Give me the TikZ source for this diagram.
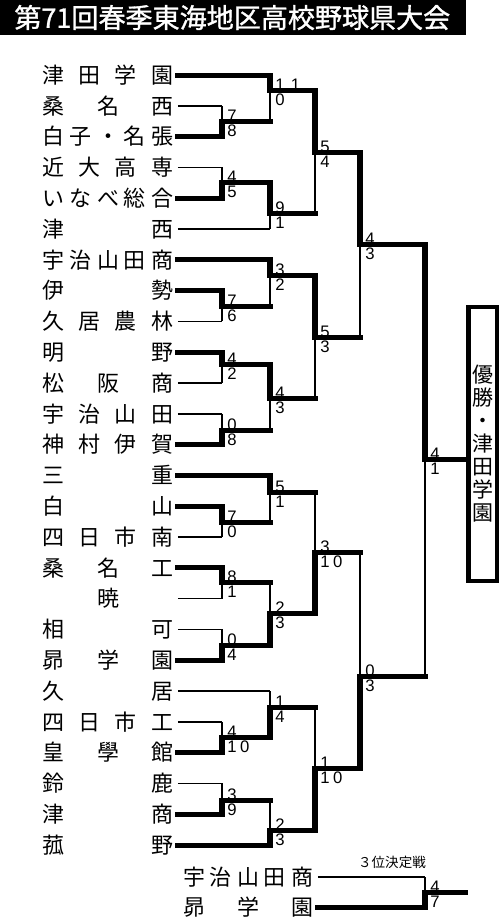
\documentclass[tikz,border=0pt]{standalone}
\usepackage{fontspec}
\setmainfont{Noto Sans CJK JP}
\newfontfamily\numfont{Liberation Sans}
\newfontfamily\titlefont{Noto Sans CJK JP}[FakeBold=1.2]
\tikzset{
  win/.style={line width=2.85pt, line cap=rect, line join=miter},
  lose/.style={line width=0.8pt},
  team/.style={anchor=west, inner sep=0pt, outer xsep=0.1cm, text height=11pt, text depth=1.5pt,
    font=\fontsize{12.5pt}{13pt}\selectfont},
  sc/.style={inner sep=0pt, font=\numfont\fontsize{9.5pt}{10pt}\selectfont},
}
\newcommand{\nm}[1]{\hbox to 2.6cm{#1}}
% #1 upper input point, #2 lower input point, #3 junction, #4 next column, #5 winner u/l, #6 #7 scores
\newcommand{\mtch}[7]{%
  \ifx u#5
    \draw[lose] (#3) -- (#2);
    \draw[win] (#1) -- (#3) -- (#3 -| #4);
  \else
    \draw[lose] (#1) -- (#3);
    \draw[win] (#2) -- (#3) -- (#3 -| #4);
  \fi
  \node[sc, anchor=base west] (#3t) at ([shift={(5,0)}]#3) {#6};
  \node[sc, anchor=base west] (#3b) at ([shift={(5,15)}]#3) {#7};
}
\begin{document}
\begin{tikzpicture}[x=0.02cm, y=-0.02cm]
\useasboundingbox (0,0) rectangle (500,921);
% title
\fill[black] (0,0) rectangle (466,35);
\node[anchor=west, text=white, inner sep=0pt, font=\titlefont\fontsize{15.4pt}{16pt}\selectfont] (title) at (14,17.5) {第71回春季東海地区高校野球県大会};
% columns
\coordinate (c1) at (222,0);
\coordinate (c2) at (270,0);
\coordinate (c3) at (315,0);
\coordinate (c4) at (360,0);
\coordinate (c5) at (425,0);
\coordinate (c6) at (465,0);
% teams
\node[team] (t1) at (38,75) {\nm{津\hfil 田\hfil 学\hfil 園}};
\node[team] (t2) at (38,105.8) {\nm{桑\hfil 名\hfil 西}};
\node[team] (t3) at (38,136.6) {\nm{白\hfil 子\hfil ・\hfil 名\hfil 張}};
\node[team] (t4) at (38,167.4) {\nm{近\hfil 大\hfil 高\hfil 専}};
\node[team] (t5) at (38,198.2) {\nm{い\hfil な\hfil べ\hfil 総\hfil 合}};
\node[team] (t6) at (38,229) {\nm{津\hfil 西}};
\node[team] (t7) at (38,259.8) {\nm{宇\hfil 治\hfil 山\hfil 田\hfil 商}};
\node[team] (t8) at (38,290.6) {\nm{伊\hfil 勢}};
\node[team] (t9) at (38,321.4) {\nm{久\hfil 居\hfil 農\hfil 林}};
\node[team] (t10) at (38,352.2) {\nm{明\hfil 野}};
\node[team] (t11) at (38,383) {\nm{松\hfil 阪\hfil 商}};
\node[team] (t12) at (38,413.8) {\nm{宇\hfil 治\hfil 山\hfil 田}};
\node[team] (t13) at (38,444.6) {\nm{神\hfil 村\hfil 伊\hfil 賀}};
\node[team] (t14) at (38,475.4) {\nm{三\hfil 重}};
\node[team] (t15) at (38,506.2) {\nm{白\hfil 山}};
\node[team] (t16) at (38,537) {\nm{四\hfil 日\hfil 市\hfil 南}};
\node[team] (t17) at (38,567.8) {\nm{桑\hfil 名\hfil 工}};
\node[team] (t18) at (38,598.6) {\nm{\hfil 暁\hfil}};
\node[team] (t19) at (38,629.4) {\nm{相\hfil 可}};
\node[team] (t20) at (38,660.2) {\nm{昴\hfil 学\hfil 園}};
\node[team] (t21) at (38,691) {\nm{久\hfil 居}};
\node[team] (t22) at (38,721.8) {\nm{四\hfil 日\hfil 市\hfil 工}};
\node[team] (t23) at (38,752.6) {\nm{皇\hfil 學\hfil 館}};
\node[team] (t24) at (38,783.4) {\nm{鈴\hfil 鹿}};
\node[team] (t25) at (38,814.2) {\nm{津\hfil 商}};
\node[team] (t26) at (38,845) {\nm{菰\hfil 野}};
\node[team] (b1) at (178,877) {\nm{宇\hfil 治\hfil 山\hfil 田\hfil 商}};
\node[team] (b2) at (178,907) {\nm{昴\hfil 学\hfil 園}};
% team lines
\draw[win] (t1.east) -- (t1.east -| c2);
\draw[lose] (t2.east) -- (t2.east -| c1);
\draw[win] (t3.east) -- (t3.east -| c1);
\draw[lose] (t4.east) -- (t4.east -| c1);
\draw[win] (t5.east) -- (t5.east -| c1);
\draw[lose] (t6.east) -- (t6.east -| c2);
\draw[win] (t7.east) -- (t7.east -| c2);
\draw[win] (t8.east) -- (t8.east -| c1);
\draw[lose] (t9.east) -- (t9.east -| c1);
\draw[win] (t10.east) -- (t10.east -| c1);
\draw[lose] (t11.east) -- (t11.east -| c1);
\draw[lose] (t12.east) -- (t12.east -| c1);
\draw[win] (t13.east) -- (t13.east -| c1);
\draw[win] (t14.east) -- (t14.east -| c2);
\draw[win] (t15.east) -- (t15.east -| c1);
\draw[lose] (t16.east) -- (t16.east -| c1);
\draw[win] (t17.east) -- (t17.east -| c1);
\draw[lose] (t18.east) -- (t18.east -| c1);
\draw[lose] (t19.east) -- (t19.east -| c1);
\draw[win] (t20.east) -- (t20.east -| c1);
\draw[lose] (t21.east) -- (t21.east -| c2);
\draw[lose] (t22.east) -- (t22.east -| c1);
\draw[win] (t23.east) -- (t23.east -| c1);
\draw[lose] (t24.east) -- (t24.east -| c1);
\draw[win] (t25.east) -- (t25.east -| c1);
\draw[win] (t26.east) -- (t26.east -| c2);
\draw[lose] (b1.east) -- (b1.east -| c5);
\draw[win] (b2.east) -- (b2.east -| c5);
% junctions
\coordinate (jA) at (222,121);
\coordinate (jB) at (270,90);
\coordinate (jC) at (222,182);
\coordinate (jD) at (270,213);
\coordinate (jE) at (315,152);
\coordinate (jG) at (222,306);
\coordinate (jF) at (270,275);
\coordinate (jH) at (222,364);
\coordinate (jI) at (222,430);
\coordinate (jJ) at (270,398);
\coordinate (jK) at (315,337);
\coordinate (jL) at (360,244);
\coordinate (jN) at (222,522);
\coordinate (jM) at (270,492);
\coordinate (jO) at (222,582);
\coordinate (jP) at (222,645);
\coordinate (jQ) at (270,613);
\coordinate (jR) at (315,552);
\coordinate (jU) at (222,737);
\coordinate (jT) at (270,707);
\coordinate (jV) at (222,800);
\coordinate (jW) at (270,830);
\coordinate (jX) at (315,768);
\coordinate (jS) at (360,676);
\coordinate (jZ) at (425,459);
\coordinate (jY) at (425,892);
% champion box
\node[draw, line width=2.3pt, minimum width=0.57cm, minimum height=5.48cm, inner sep=0pt,
  align=center, font=\fontsize{11.95pt}{13.09pt}\selectfont] (champ) at (482.75,444)
  {優\\勝\\・\\津\\田\\学\\園};
% matches
\mtch{t2.east -| c1}{t3.east -| c1}{jA}{c2}{l}{7}{8}
\mtch{t1.east -| c2}{jA -| c2}{jB}{c3}{u}{1\kern3.5pt 1}{0}
\mtch{t4.east -| c1}{t5.east -| c1}{jC}{c2}{l}{4}{5}
\mtch{jC -| c2}{t6.east -| c2}{jD}{c3}{u}{9}{1}
\mtch{jB -| c3}{jD -| c3}{jE}{c4}{u}{5}{4}
\mtch{t8.east -| c1}{t9.east -| c1}{jG}{c2}{u}{7}{6}
\mtch{t7.east -| c2}{jG -| c2}{jF}{c3}{u}{3}{2}
\mtch{t10.east -| c1}{t11.east -| c1}{jH}{c2}{u}{4}{2}
\mtch{t12.east -| c1}{t13.east -| c1}{jI}{c2}{l}{0}{8}
\mtch{jH -| c2}{jI -| c2}{jJ}{c3}{u}{4}{3}
\mtch{jF -| c3}{jJ -| c3}{jK}{c4}{u}{5}{3}
\mtch{jE -| c4}{jK -| c4}{jL}{c5}{u}{4}{3}
\mtch{t15.east -| c1}{t16.east -| c1}{jN}{c2}{u}{7}{0}
\mtch{t14.east -| c2}{jN -| c2}{jM}{c3}{u}{5}{1}
\mtch{t17.east -| c1}{t18.east -| c1}{jO}{c2}{u}{8}{1}
\mtch{t19.east -| c1}{t20.east -| c1}{jP}{c2}{l}{0}{4}
\mtch{jO -| c2}{jP -| c2}{jQ}{c3}{l}{2}{3}
\mtch{jM -| c3}{jQ -| c3}{jR}{c4}{l}{3}{1\kern2pt 0}
\mtch{t22.east -| c1}{t23.east -| c1}{jU}{c2}{l}{4}{1\kern2pt 0}
\mtch{t21.east -| c2}{jU -| c2}{jT}{c3}{l}{1}{4}
\mtch{t24.east -| c1}{t25.east -| c1}{jV}{c2}{l}{3}{9}
\mtch{jV -| c2}{t26.east -| c2}{jW}{c3}{l}{2}{3}
\mtch{jT -| c3}{jW -| c3}{jX}{c4}{l}{1}{1\kern2pt 0}
\mtch{jR -| c4}{jX -| c4}{jS}{c5}{l}{0}{3}
\mtch{jL -| c5}{jS -| c5}{jZ}{champ.west}{u}{4}{1}
\mtch{b1.east -| c5}{b2.east -| c5}{jY}{c6}{l}{4}{7}
% third place label
\node[inner sep=0pt, font=\fontsize{7.7pt}{8pt}\selectfont] (third) at (392,862) {３位決定戦};
\end{tikzpicture}
\end{document}
